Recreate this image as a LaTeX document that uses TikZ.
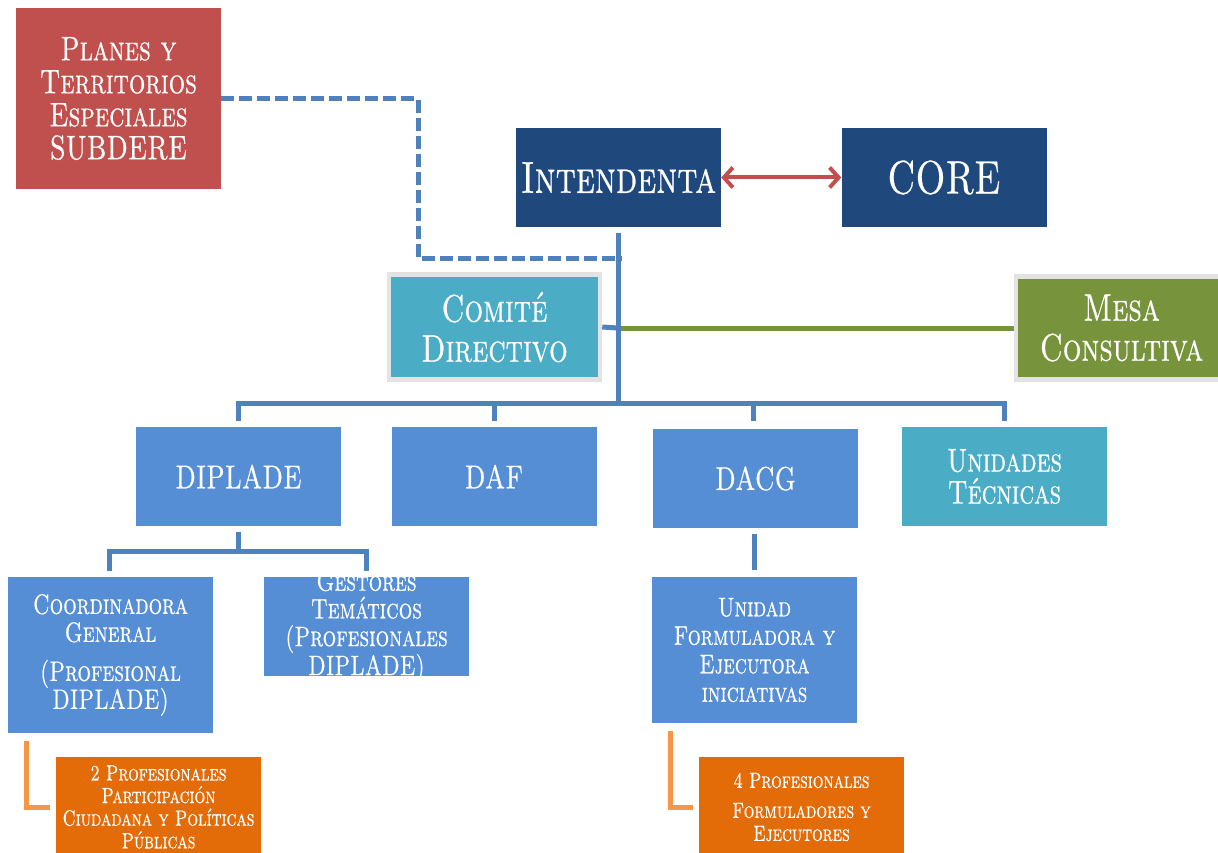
\documentclass[tikz,border=0pt]{standalone}
\usepackage{fontspec}
\setmainfont{lmroman10-regular.otf}[FakeStretch=0.76,FakeBold=0.6,SmallCapsFont=lmromancaps10-regular.otf,SmallCapsFeatures={FakeStretch=0.76,FakeBold=0.6}]
\usetikzlibrary{arrows.meta,calc}
\definecolor{cred}{HTML}{C0504D}
\definecolor{cdark}{HTML}{1F497D}
\definecolor{cteal}{HTML}{4BACC6}
\definecolor{cgreen}{HTML}{77933C}
\definecolor{cblue}{HTML}{558ED5}
\definecolor{cline}{HTML}{4F81BD}
\definecolor{corange}{HTML}{E36C09}
\definecolor{clorange}{HTML}{F79646}
\definecolor{cgray}{HTML}{E3E3E3}
\newcommand{\fs}[2]{\fontsize{#1}{#2}\selectfont\scshape}
\begin{document}
\begin{tikzpicture}[x=1pt,y=-1pt,
  box/.style={rectangle,inner sep=0pt,text=white,align=center},
  bw/.style={minimum width=205pt,minimum height=99pt},
  conn/.style={draw=cline,line width=5pt},
  oconn/.style={draw=clorange,line width=5pt},
  dconn/.style={draw=cline,line width=5pt,dash pattern=on 13pt off 5pt},
  gconn/.style={draw=cgreen,line width=5pt},
  rarrow/.style={draw=cred,line width=4pt,{Straight Barb[length=9pt,width=20pt]}-{Straight Barb[length=9pt,width=20pt]}},
  framed/.style={draw=cgray,line width=4.5pt}]
\useasboundingbox (0,0) rectangle (1218,853);
% nodes
\node[box,fill=cred,minimum width=205pt,minimum height=181pt,font=\fs{34}{33}] (planes) at (118.5,98.5) {Planes y\\Territorios\\Especiales\\SUBDERE};
\node[box,bw,fill=cdark,font=\fs{45}{46}] (int) at (618.5,177.5) {Intendenta};
\node[box,bw,fill=cdark,font=\fs{47}{48}] (core) at (944,177.5) {CORE};
\node[box,framed,fill=cteal,minimum width=211pt,minimum height=105pt,font=\fs{38.5}{40}] (com) at (494.5,327) {Comité\\Directivo};
\node[box,framed,fill=cgreen,minimum width=211pt,minimum height=103pt,font=\fs{38.5}{40}] (mesa) at (1121.5,328) {Mesa\\Consultiva};
\node[box,bw,fill=cblue,font=\fs{33}{34}] (diplade) at (238.5,476.5) {DIPLADE};
\node[box,bw,fill=cblue,font=\fs{33}{34}] (daf) at (494,476.5) {DAF};
\node[box,bw,fill=cblue,font=\fs{33}{34}] (dacg) at (755.5,478.5) {DACG};
\node[box,bw,fill=cteal,font=\fs{33}{32}] (ut) at (1004.5,476.5) {Unidades\\Técnicas};
\node[box,fill=cblue,minimum width=205pt,minimum height=156pt,font=\fs{28}{28}] (coord) at (110.5,655) {Coordinadora\\General\\[11pt](Profesional\\DIPLADE)};
\node[box,bw,fill=cblue] (gest) at (366.5,626.5) {};
\begin{scope}
\clip (gest.north west) rectangle (gest.south east);
\node[box,font=\fs{28}{27.7}] (gesttext) at (gest.center) {Gestores\\Temáticos\\(Profesionales\\DIPLADE)};
\end{scope}
\node[box,fill=cblue,minimum width=205pt,minimum height=146pt,font=\fs{27}{28.5}] (unidad) at (754.5,650) {Unidad\\Formuladora y\\Ejecutora\\iniciativas};
\node[box,fill=corange,minimum width=205pt,minimum height=100pt,font=\fs{22}{22.6}] (prof2) at (158.5,807) {2 Profesionales\\Participación\\Ciudadana y Políticas\\Públicas};
\node[box,fill=corange,minimum width=205pt,minimum height=100pt,font=\fs{22}{23}] (prof4) at (801.5,807) {4 Profesionales\\[7pt]Formuladores y\\Ejecutores};
% coordinates
\coordinate (bus) at (618,403);
\coordinate (dbus) at (238,551);
\coordinate (dashend) at (622,258);
\coordinate (trunkc) at (618,328);
% connectors
\draw[rarrow] (int.east) -- (core.west);
\draw[dconn] (planes.east) -- (418,98.5) |- (dashend);
\draw[gconn] (trunkc) -- (mesa.west);
\draw[conn] (com.east) -- (trunkc);
\draw[conn] ($(int.south)+(-0.5,6)$) -- (bus);
\draw[conn] ($(diplade.north)+(0,-6)$) |- (bus) -| ($(ut.north)+(0,-6)$);
\draw[conn] ($(daf.north)+(0,-6)$) -- (daf.north |- bus);
\draw[conn] ($(dacg.north)+(-2,-8)$) -- ($(dacg.north |- bus)+(-2,0)$);
\draw[conn] ($(diplade.south)+(-0.5,6)$) -- (dbus);
\draw[conn] ($(coord.north)+(-1.5,-6)$) |- (dbus) -| ($(gest.north)+(0,-6)$);
\draw[conn] ($(dacg.south)+(-1.5,6)$) -- ($(unidad.north)+(-0.5,-7)$);
\draw[oconn] ($(coord.south west)+(19,8)$) |- ($(prof2.west)+(-6,0)$);
\draw[oconn] ($(unidad.south west)+(19,8)$) |- ($(prof4.west)+(-6,0)$);
\end{tikzpicture}
\end{document}
